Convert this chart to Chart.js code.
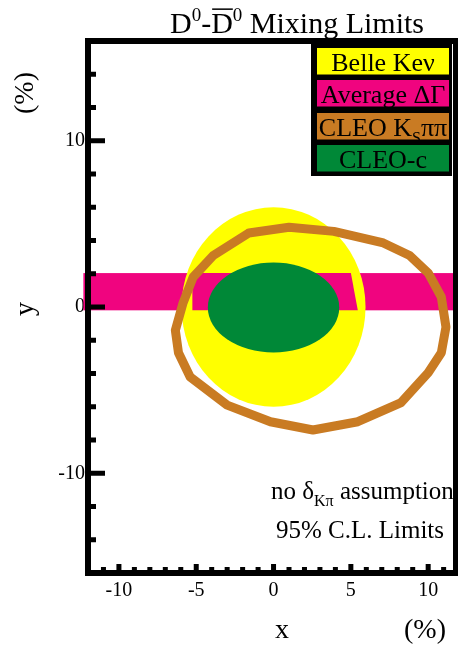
<!DOCTYPE html>
<html>
<head>
<meta charset="utf-8">
<script src="https://cdn.jsdelivr.net/npm/chart.js@4.4.0/dist/chart.umd.min.js"></script>
<style>
    html, body { margin: 0; padding: 0; background: #fff; }
    #wrap { width: 458px; height: 647px; }
</style>
</head>
<body>
<div id="wrap"><canvas id="mixChart"></canvas></div>
<script>
// axis ranges and tick labels (%)
var xRange = [-12, 11.8];
var yRange = [-16, 16];
var xTickLabels = [-10, -5, 0, 5, 10];
var yTickLabels = [-10, 0, 10];

// legend
var seriesNames = ['Belle Keν', 'Average ΔΓ', 'CLEO K_Sππ', 'CLEO-c'];
var seriesColors = ['#ffff00', '#f0047f', '#c97b23', '#008837'];

// Average ΔΓ band (x extent, y limits)
var bandX = [-12.3, 11.8];
var bandY = [-0.2, 2.04];
// piece of the band that shows inside the Belle region
var bandInnerX = [-5.25, -5.25, 5.0, 5.45];
var bandInnerY = [-0.2, 2.04, 2.04, -0.2];

// Belle Keν limit: centre x, centre y, half width, half height
var belleEllipse = [0, 0, 5.95, 6.0];
// CLEO-c limit
var cleocEllipse = [0, -0.03, 4.25, 2.7];

// CLEO Ksππ contour
var kspipiX = [-1.6, 1.0, 3.9, 7.1, 8.8, 10.0, 10.85, 11.15, 10.85, 10.0, 8.25, 5.45, 2.55, -0.2, -3.0, -5.4, -6.15, -6.35, -5.85, -5.2, -3.9, -1.6];
var kspipiY = [4.45, 4.8, 4.55, 3.85, 3.1, 2.05, 0.6, -1.2, -2.75, -3.95, -5.75, -6.9, -7.4, -6.9, -5.9, -4.2, -2.75, -1.4, 0.25, 1.8, 3.1, 4.45];

var titleParts = [['D', ''], ['0', 'sup'], ['-', ''], ['D', 'bar'], ['0', 'sup'], [' Mixing Limits', '']];
var noteLine1 = [['no ', ''], ['δ', ''], ['Kπ', 'sub'], [' assumption', '']];
var noteLine2 = [['95% C.L. Limits', '']];

var SERIF = '"Liberation Serif", "DejaVu Serif", serif';

function splitSub(label) {
    var m = label.match(/^(.*)_(.)(.*)$/);
    if (!m) return [[label, '']];
    return [[m[1], ''], [m[2], 'sub'], [m[3], '']];
}

function drawParts(ctx, parts, x, y, size, align) {
    var widths = parts.map(function (p) {
        ctx.font = (p[1] === 'sub' || p[1] === 'sup' ? Math.round(size * 0.62) : size) + 'px ' + SERIF;
        return ctx.measureText(p[0]).width;
    });
    var total = widths.reduce(function (a, b) { return a + b; }, 0);
    var cx = align === 'center' ? x - total / 2 : x;
    ctx.textAlign = 'left';
    ctx.textBaseline = 'alphabetic';
    parts.forEach(function (p, i) {
        var small = p[1] === 'sub' || p[1] === 'sup';
        ctx.font = (small ? Math.round(size * 0.62) : size) + 'px ' + SERIF;
        var dy = p[1] === 'sub' ? size * 0.28 : (p[1] === 'sup' ? -size * 0.4 : 0);
        ctx.fillText(p[0], cx, y + dy);
        if (p[1] === 'bar') {
            ctx.fillRect(cx + 1, y - size * 0.82, widths[i] - 1, 1.5);
        }
        cx += widths[i];
    });
}

function ellipsePx(xs, ys, e) {
    var cx = xs.getPixelForValue(e[0]);
    var cy = ys.getPixelForValue(e[1]);
    return [cx, cy, Math.abs(xs.getPixelForValue(e[0] + e[2]) - cx), Math.abs(ys.getPixelForValue(e[1] + e[3]) - cy)];
}

var regionsPlugin = {
    id: 'regions',
    beforeDatasetsDraw: function (chart) {
        var ctx = chart.ctx, xs = chart.scales.x, ys = chart.scales.y;
        ctx.save();
        // average ΔΓ band
        ctx.fillStyle = seriesColors[1];
        var bx0 = xs.getPixelForValue(bandX[0]), bx1 = xs.getPixelForValue(bandX[1]);
        var by0 = ys.getPixelForValue(bandY[1]), by1 = ys.getPixelForValue(bandY[0]);
        ctx.fillRect(bx0, by0, bx1 - bx0, by1 - by0);
        // Belle
        var b = ellipsePx(xs, ys, belleEllipse);
        ctx.fillStyle = seriesColors[0];
        ctx.beginPath();
        ctx.ellipse(b[0], b[1], b[2], b[3], 0, 0, Math.PI * 2);
        ctx.fill();
        // band again inside
        ctx.fillStyle = seriesColors[1];
        ctx.beginPath();
        bandInnerX.forEach(function (v, i) {
            var px = xs.getPixelForValue(v), py = ys.getPixelForValue(bandInnerY[i]);
            if (i === 0) ctx.moveTo(px, py); else ctx.lineTo(px, py);
        });
        ctx.closePath();
        ctx.fill();
        // CLEO-c
        var c = ellipsePx(xs, ys, cleocEllipse);
        ctx.fillStyle = seriesColors[3];
        ctx.beginPath();
        ctx.ellipse(c[0], c[1], c[2], c[3], 0, 0, Math.PI * 2);
        ctx.fill();
        ctx.restore();
    },
    afterDraw: function (chart) {
        var ctx = chart.ctx, xs = chart.scales.x, ys = chart.scales.y, a = chart.chartArea;
        ctx.save();
        ctx.fillStyle = '#000';
        ctx.strokeStyle = '#000';

        // frame
        ctx.lineWidth = 6;
        ctx.strokeRect(a.left, a.top, a.right - a.left, a.bottom - a.top);

        // ticks, pointing inwards
        ctx.lineWidth = 5;
        ctx.beginPath();
        for (var v = yRange[0] + 2; v < yRange[1]; v += 2) {
            var py = ys.getPixelForValue(v);
            ctx.moveTo(a.left, py);
            ctx.lineTo(a.left + (v % 10 === 0 ? 17 : 8), py);
        }
        for (var u = -11; u <= 11; u++) {
            var px = xs.getPixelForValue(u);
            ctx.moveTo(px, a.bottom);
            ctx.lineTo(px, a.bottom - (u % 5 === 0 ? 9 : 6));
        }
        ctx.stroke();

        // legend
        ctx.fillStyle = '#000';
        ctx.fillRect(311, 41, 141, 135);
        var rowTops = [48, 80, 113, 145];
        seriesNames.forEach(function (name, i) {
            ctx.fillStyle = seriesColors[i];
            ctx.fillRect(317, rowTops[i], 132, 26.5);
            ctx.fillStyle = '#000';
            drawParts(ctx, splitSub(name), 383, rowTops[i] + 23, 26, 'center');
        });

        // title
        drawParts(ctx, titleParts, 297, 33, 30, 'center');

        // axis titles
        drawParts(ctx, [['x', '']], 282, 638, 28, 'center');
        drawParts(ctx, [['(%)', '']], 425, 638, 28, 'center');
        ctx.save();
        ctx.translate(33, 309);
        ctx.rotate(-Math.PI / 2);
        drawParts(ctx, [['y', '']], 0, 0, 28, 'center');
        ctx.restore();
        ctx.save();
        ctx.translate(33, 93);
        ctx.rotate(-Math.PI / 2);
        drawParts(ctx, [['(%)', '']], 0, 0, 28, 'center');
        ctx.restore();

        // notes
        drawParts(ctx, noteLine1, 271, 499, 25, 'left');
        drawParts(ctx, noteLine2, 360, 538, 25, 'center');
        ctx.restore();
    }
};

var kspipiPoints = kspipiX.map(function (x, i) { return { x: x, y: kspipiY[i] }; });

new Chart(document.getElementById('mixChart').getContext('2d'), {
    type: 'scatter',
    data: {
        datasets: [{
            label: seriesNames[2],
            data: kspipiPoints,
            showLine: true,
            fill: false,
            borderColor: seriesColors[2],
            borderWidth: 9,
            borderJoinStyle: 'round',
            borderCapStyle: 'round',
            pointRadius: 0,
            tension: 0
        }]
    },
    options: {
        responsive: true,
        maintainAspectRatio: false,
        animation: false,
        layout: { padding: { top: 41, right: 2, left: 0, bottom: 0 } },
        plugins: {
            legend: { display: false },
            tooltip: { enabled: false }
        },
        scales: {
            x: {
                type: 'linear',
                min: xRange[0],
                max: xRange[1],
                grid: { display: false, drawTicks: false },
                border: { display: false },
                ticks: {
                    font: { family: SERIF, size: 20 },
                    color: '#000',
                    padding: 6,
                    maxRotation: 0,
                    autoSkip: false
                },
                afterBuildTicks: function (scale) {
                    scale.ticks = xTickLabels.map(function (v) { return { value: v }; });
                },
                afterFit: function (scale) { scale.height = 74; }
            },
            y: {
                type: 'linear',
                min: yRange[0],
                max: yRange[1],
                grid: { display: false, drawTicks: false },
                border: { display: false },
                ticks: {
                    font: { family: SERIF, size: 20 },
                    color: '#000',
                    padding: 3,
                    autoSkip: false
                },
                afterBuildTicks: function (scale) {
                    scale.ticks = yTickLabels.map(function (v) { return { value: v }; });
                },
                afterFit: function (scale) { scale.width = 88; }
            }
        }
    },
    plugins: [regionsPlugin]
});
</script>
</body>
</html>
